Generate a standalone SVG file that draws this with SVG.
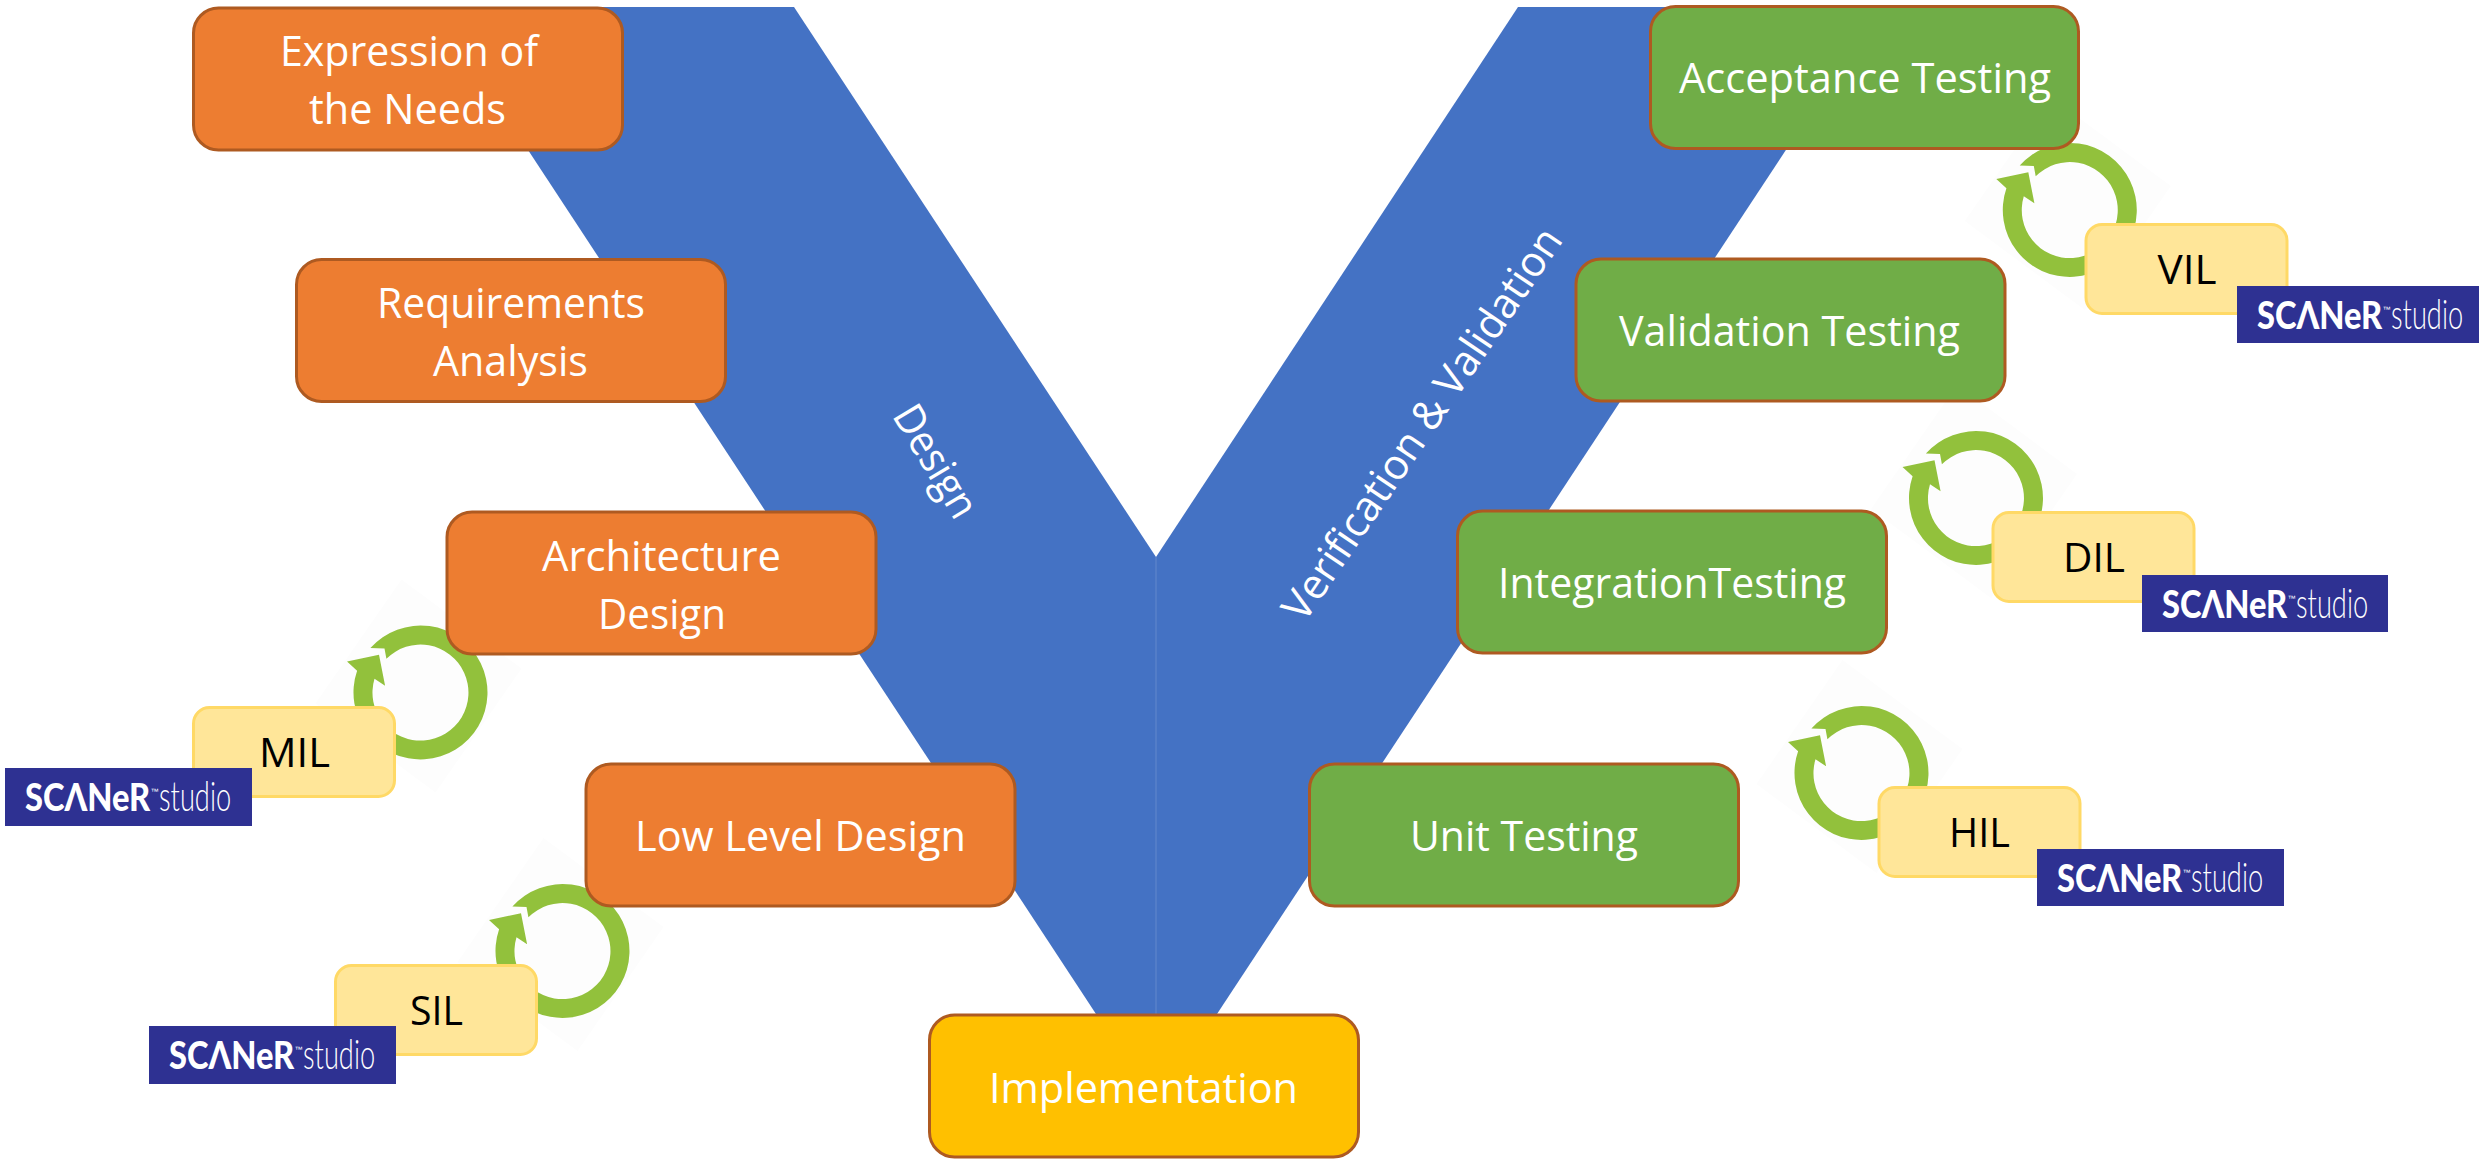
<svg xmlns="http://www.w3.org/2000/svg" width="2479" height="1160" viewBox="0 0 2479 1160">
<style>
text{font-family:"Open Sans","Noto Sans","Liberation Sans",sans-serif}
.box{stroke:#AE5A21;stroke-width:3}
.orange{fill:#ED7D31}.green{fill:#70AD47}.gold{fill:#FFC000}
.hil{fill:#FFE699;stroke:#FFD966;stroke-width:3}
.w{fill:#fff;font-size:42px;text-anchor:start}
.k{fill:#000;font-size:40px;text-anchor:start}
.band{fill:#4472C4}
.badge{fill:#2E3192}
.scaner{fill:#fff;font-family:Lato,"Open Sans",sans-serif;font-weight:900;font-size:37px}
.tm{fill:#fff;font-family:"Liberation Sans",sans-serif;font-size:8px}
.studio{fill:#fff;font-family:Lato,"Open Sans",sans-serif;font-weight:300;font-size:42px}
.loop{fill:#92C13C}
.halo{fill:#FDFDFD}
</style>
<defs>
<polygon id="loopHalo" class="halo" points="101,-24 15,100 -105,11 -19,-113"/>
<path id="loopArrow" class="loop" d="M-50.1,-44.5 A67,67 0 1 1 -63.4,-21.7 L-73.5,-31 L-41.5,-37.7 L-35.4,-6.7 L-46,-13.7 A48,48 0 1 0 -34.1,-33.7 L-36,-44 Z"/>
</defs>
<g id="v-shape">
<polygon class="band" points="434,7 794,7 1156,557 1156,1014 1096,1014"/>
<polygon class="band" points="1518,7 1880,7 1217,1014 1156,1014 1156,557"/>
<line x1="1156" y1="557" x2="1156" y2="1014" stroke="#6288CC" stroke-width="1"/>
<text class="w" transform="translate(891.5,415.5) rotate(59)" textLength="124" lengthAdjust="spacingAndGlyphs">Design</text>
<text class="w" transform="translate(1304,624) rotate(-55.9)" textLength="464" lengthAdjust="spacingAndGlyphs">Verification &amp; Validation</text>
</g>
<g id="connectors">
<use href="#loopHalo" x="420.5" y="692.5"/><use href="#loopArrow" x="420.5" y="692.5"/>
<use href="#loopHalo" x="562.5" y="951"/><use href="#loopArrow" x="562.5" y="951"/>
<use href="#loopHalo" x="2069.8" y="210"/><use href="#loopArrow" x="2069.8" y="210"/>
<use href="#loopHalo" x="1976" y="498"/><use href="#loopArrow" x="1976" y="498"/>
<use href="#loopHalo" x="1861.5" y="773"/><use href="#loopArrow" x="1861.5" y="773"/>
</g>
<g id="node-expression"><rect class="box orange" x="193.5" y="8" width="429" height="142" rx="25"/><text class="w" x="280" y="66" textLength="258" lengthAdjust="spacingAndGlyphs">Expression of</text><text class="w" x="309" y="124" textLength="197" lengthAdjust="spacingAndGlyphs">the Needs</text></g>
<g id="node-requirements"><rect class="box orange" x="296.5" y="259.5" width="429" height="142" rx="25"/><text class="w" x="377" y="318" textLength="268" lengthAdjust="spacingAndGlyphs">Requirements</text><text class="w" x="433" y="376" textLength="155" lengthAdjust="spacingAndGlyphs">Analysis</text></g>
<g id="node-architecture"><rect class="box orange" x="447" y="512" width="429" height="142" rx="25"/><text class="w" x="542" y="571" textLength="239" lengthAdjust="spacingAndGlyphs">Architecture</text><text class="w" x="598" y="629" textLength="128" lengthAdjust="spacingAndGlyphs">Design</text></g>
<g id="node-low-level"><rect class="box orange" x="586" y="764" width="429" height="142" rx="25"/><text class="w" x="635" y="851" textLength="331" lengthAdjust="spacingAndGlyphs">Low Level Design</text></g>
<g id="node-implementation"><rect class="box gold" x="929.5" y="1015" width="429" height="142" rx="25"/><text class="w" x="989" y="1103" textLength="309" lengthAdjust="spacingAndGlyphs">Implementation</text></g>
<g id="node-unit"><rect class="box green" x="1309.5" y="764" width="429" height="142" rx="25"/><text class="w" x="1410" y="851" textLength="228" lengthAdjust="spacingAndGlyphs">Unit Testing</text></g>
<g id="node-integration"><rect class="box green" x="1457.5" y="511" width="429" height="142" rx="25"/><text class="w" x="1498" y="598" textLength="348" lengthAdjust="spacingAndGlyphs">IntegrationTesting</text></g>
<g id="node-validation"><rect class="box green" x="1576" y="259" width="429" height="142" rx="25"/><text class="w" x="1619" y="346" textLength="341" lengthAdjust="spacingAndGlyphs">Validation Testing</text></g>
<g id="node-acceptance"><rect class="box green" x="1650.5" y="6.5" width="428" height="142" rx="25"/><text class="w" x="1679" y="93" textLength="372" lengthAdjust="spacingAndGlyphs">Acceptance Testing</text></g>
<g id="node-mil"><rect class="hil" x="193.5" y="707.5" width="201" height="89" rx="16"/><text class="k" x="259" y="767" textLength="71" lengthAdjust="spacingAndGlyphs">MIL</text></g>
<g id="node-sil"><rect class="hil" x="335.5" y="965.5" width="201" height="89" rx="16"/><text class="k" x="410" y="1025" textLength="53" lengthAdjust="spacingAndGlyphs">SIL</text></g>
<g id="node-vil"><rect class="hil" x="2086" y="224.5" width="201" height="89" rx="16"/><text class="k" x="2157.5" y="284" textLength="59" lengthAdjust="spacingAndGlyphs">VIL</text></g>
<g id="node-dil"><rect class="hil" x="1993" y="512.5" width="201" height="89" rx="16"/><text class="k" x="2063" y="572" textLength="62" lengthAdjust="spacingAndGlyphs">DIL</text></g>
<g id="node-hil"><rect class="hil" x="1879" y="787.5" width="201" height="89" rx="16"/><text class="k" x="1949" y="847" textLength="61" lengthAdjust="spacingAndGlyphs">HIL</text></g>
<g id="badge-mil" transform="translate(5,768)"><rect class="badge" width="247" height="58"/><text class="scaner" transform="translate(20,43) scale(.87,1)" textLength="144" lengthAdjust="spacingAndGlyphs">SCΛNeR</text><text class="tm" x="145.5" y="26">™</text><text class="studio" transform="translate(154,43) scale(.65,1)" textLength="111" lengthAdjust="spacingAndGlyphs">studio</text></g>
<g id="badge-sil" transform="translate(149,1026)"><rect class="badge" width="247" height="58"/><text class="scaner" transform="translate(20,43) scale(.87,1)" textLength="144" lengthAdjust="spacingAndGlyphs">SCΛNeR</text><text class="tm" x="145.5" y="26">™</text><text class="studio" transform="translate(154,43) scale(.65,1)" textLength="111" lengthAdjust="spacingAndGlyphs">studio</text></g>
<g id="badge-vil" transform="translate(2237,286)"><rect class="badge" width="242" height="57"/><text class="scaner" transform="translate(20,43) scale(.87,1)" textLength="144" lengthAdjust="spacingAndGlyphs">SCΛNeR</text><text class="tm" x="145.5" y="26">™</text><text class="studio" transform="translate(154,43) scale(.65,1)" textLength="111" lengthAdjust="spacingAndGlyphs">studio</text></g>
<g id="badge-dil" transform="translate(2142,575)"><rect class="badge" width="246" height="57"/><text class="scaner" transform="translate(20,43) scale(.87,1)" textLength="144" lengthAdjust="spacingAndGlyphs">SCΛNeR</text><text class="tm" x="145.5" y="26">™</text><text class="studio" transform="translate(154,43) scale(.65,1)" textLength="111" lengthAdjust="spacingAndGlyphs">studio</text></g>
<g id="badge-hil" transform="translate(2037,849)"><rect class="badge" width="247" height="57"/><text class="scaner" transform="translate(20,43) scale(.87,1)" textLength="144" lengthAdjust="spacingAndGlyphs">SCΛNeR</text><text class="tm" x="145.5" y="26">™</text><text class="studio" transform="translate(154,43) scale(.65,1)" textLength="111" lengthAdjust="spacingAndGlyphs">studio</text></g>
</svg>
